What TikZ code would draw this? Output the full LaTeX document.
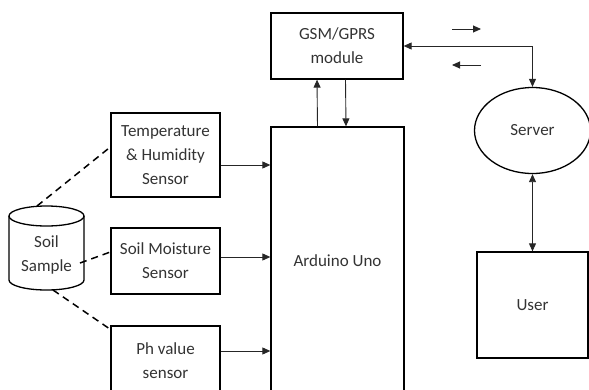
\documentclass[tikz,border=0pt]{standalone}
\usepackage{fontspec}
\setmainfont{Carlito}
\usetikzlibrary{arrows.meta,calc,shapes.geometric}
\begin{document}
\begin{tikzpicture}[x=1pt,y=-1pt,
  box/.style={draw=black,line width=1.3pt,rectangle,inner sep=0pt,align=center,
    font=\fontsize{17}{24}\selectfont,text=black!80},
  conn/.style={draw=black!85,line width=0.9pt},
  tip/.style={-{Triangle[length=8pt,width=7pt]}},
  tips/.style={{Triangle[length=8pt,width=7pt]}-{Triangle[length=8pt,width=7pt]}},
  dashline/.style={draw=black,line width=1.5pt,dash pattern=on 7pt off 5pt}]
\useasboundingbox (0,0) rectangle (589,389);
\clip (0,0) rectangle (589,389);
% nodes
\node[box,minimum width=132pt,minimum height=66pt] (gsm) at (337,46) {GSM/GPRS\\module};
\node[box,minimum width=133pt,minimum height=268pt] (ard) at (337.5,261) {Arduino Uno};
\node[box,minimum width=109pt,minimum height=84pt] (temp) at (165.5,155) {Temperature\\\&~Humidity\\Sensor};
\node[box,minimum width=109pt,minimum height=66pt] (moist) at (165.5,261) {Soil Moisture\\Sensor};
\node[box,minimum width=109pt,minimum height=69pt] (ph) at (165.5,360.5) {Ph value\\sensor};
\node[box,ellipse,minimum width=116pt,minimum height=86pt] (server) at (532.5,130.5) {Server};
\node[box,minimum width=111pt,minimum height=106pt] (user) at (532.5,305) {User};
% cylinder
\draw[line width=1.3pt] (46.5,216) ellipse [x radius=37.5pt, y radius=10pt];
\draw[line width=1.3pt] (9,216) -- (9,280) arc[start angle=180,end angle=360,x radius=37.5pt,y radius=10pt] -- (84,216);
\node[align=center,font=\fontsize{17}{24}\selectfont,text=black!80,inner sep=0pt] (soil) at (46.5,255) {Soil\\Sample};
% dashed links
\coordinate (c1) at (37,206);
\coordinate (c2) at (80,263);
\coordinate (c3) at (53,290);
\coordinate (t1) at ($(temp.west)+(0,-8)$);
\coordinate (m1) at ($(moist.west)+(0,-9)$);
\coordinate (p1) at ($(ph.north west)+(0,4)$);
\draw[dashline] (c1) -- (t1);
\draw[dashline] (c2) -- (m1);
\draw[dashline] (c3) -- (p1);
% sensor arrows
\coordinate (ts) at ($(temp.east)+(0,10)$);
\coordinate (ms) at ($(moist.east)+(0,-4)$);
\coordinate (ps) at ($(ph.east)+(0,-9.5)$);
\draw[conn,tip] (ts) -- (ts -| ard.west);
\draw[conn,tip] (ms) -- (ms -| ard.west);
\draw[conn,tip] (ps) -- (ps -| ard.west);
% gsm - arduino
\coordinate (au) at ($(ard.north)+(-20,0)$);
\coordinate (gu) at ($(gsm.south)+(-20,0)$);
\coordinate (gd) at ($(gsm.south)+(8.5,0)$);
\coordinate (ad) at ($(ard.north)+(8.5,0)$);
\draw[conn,tip] (au) -- (gu);
\draw[conn,tip] (gd) -- (ad);
% gsm - server
\draw[conn,tips] (gsm.east) -| (server.north);
\coordinate (r1) at (452,29);
\coordinate (r2) at (481,29);
\coordinate (l1) at (481,65);
\coordinate (l2) at (452,65);
\draw[conn,tip] (r1) -- (r2);
\draw[conn,tip] (l1) -- (l2);
% server - user
\draw[conn,tips] (server.south) -- (user.north);
\end{tikzpicture}
\end{document}
